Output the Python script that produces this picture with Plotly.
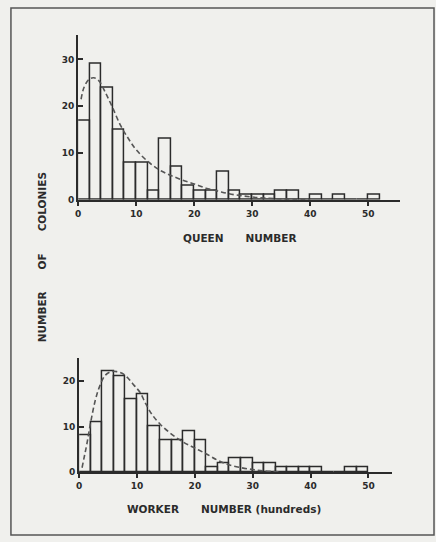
import plotly.graph_objects as go

W, H = 436, 542

# ---- data ----
bin_width = 2
queen_bins = [0, 2, 4, 6, 8, 10, 12, 14, 16, 18, 20, 22, 24, 26, 28, 30, 32, 34, 36, 38, 40, 42, 44, 46, 48, 50]
queen_counts = [17, 29, 24, 15, 8, 8, 2, 13, 7, 3, 2, 2, 6, 2, 1, 1, 1, 2, 2, 0, 1, 0, 1, 0, 0, 1]

worker_bins = [0, 2, 4, 6, 8, 10, 12, 14, 16, 18, 20, 22, 24, 26, 28, 30, 32, 34, 36, 38, 40, 42, 44, 46, 48]
worker_counts = [8, 11, 22, 21, 16, 17, 10, 7, 7, 9, 7, 1, 2, 3, 3, 2, 2, 1, 1, 1, 1, 0, 0, 1, 1]

queen_fit_x = [0.5, 1.0, 1.9, 2.7, 3.6, 4.7, 5.9, 7.3, 8.7, 10.0, 12.0, 14.0, 16.0, 18.0, 20.0, 22.0, 24.0, 26.0, 28.0, 30.0, 32.0, 35.0, 40.0]
queen_fit_y = [21.5, 24.0, 25.8, 26.1, 25.4, 22.9, 19.8, 15.9, 13.0, 10.7, 8.2, 6.4, 5.2, 4.2, 3.4, 2.5, 1.9, 1.3, 0.9, 0.6, 0.4, 0.2, 0.05]

worker_fit_x = [0.5, 0.9, 1.3, 2.0, 2.8, 3.6, 4.5, 5.5, 6.5, 7.5, 8.5, 9.5, 10.5, 11.5, 12.5, 14.0, 16.0, 18.0, 20.0, 22.0, 24.0, 26.0, 28.0, 30.0, 32.0, 35.0]
worker_fit_y = [1.0, 3.5, 6.0, 11.0, 15.8, 19.0, 21.2, 22.0, 22.0, 21.6, 20.5, 19.0, 17.5, 15.0, 12.8, 10.5, 8.3, 6.6, 5.3, 4.0, 2.6, 1.6, 1.0, 0.6, 0.3, 0.1]

x_ticks = [0, 10, 20, 30, 40, 50]
queen_y_ticks = [0, 10, 20, 30]
worker_y_ticks = [0, 10, 20]

queen_title = "QUEEN\u00a0\u00a0\u00a0\u00a0\u00a0\u00a0NUMBER"
worker_title = "WORKER\u00a0\u00a0\u00a0\u00a0\u00a0\u00a0NUMBER (hundreds)"
y_title = "NUMBER\u00a0\u00a0\u00a0\u00a0\u00a0\u00a0OF\u00a0\u00a0\u00a0\u00a0\u00a0\u00a0COLONIES"

# ---- style ----
BG = "#f0f0ed"
INK = "#2b2b2b"
FONT = "DejaVu Sans"


def px_x(p):
    return p / W


def px_y(p):
    return 1 - p / H


fig = go.Figure()

fig.add_trace(go.Bar(
    x=[b + bin_width / 2 for b in queen_bins], y=queen_counts, width=bin_width,
    marker=dict(color="rgba(0,0,0,0)", line=dict(color=INK, width=1.5)),
    xaxis="x", yaxis="y", showlegend=False, hoverinfo="x+y"))
fig.add_trace(go.Scatter(
    x=queen_fit_x, y=queen_fit_y, mode="lines",
    line=dict(color="#555555", width=1.6, dash="5px,3px", shape="spline"),
    xaxis="x", yaxis="y", showlegend=False))

fig.add_trace(go.Bar(
    x=[b + bin_width / 2 for b in worker_bins], y=worker_counts, width=bin_width,
    marker=dict(color="rgba(0,0,0,0)", line=dict(color=INK, width=1.5)),
    xaxis="x2", yaxis="y2", showlegend=False, hoverinfo="x+y"))
fig.add_trace(go.Scatter(
    x=worker_fit_x, y=worker_fit_y, mode="lines",
    line=dict(color="#555555", width=1.6, dash="5px,3px", shape="spline"),
    xaxis="x2", yaxis="y2", showlegend=False))

tickfont = dict(family=FONT, size=9, color=INK, weight="bold")

common_x = dict(showline=True, linewidth=2, linecolor=INK, ticks="outside", ticklen=4,
                tickwidth=1.5, tickcolor=INK, showgrid=False, zeroline=False,
                tickvals=x_ticks, tickfont=tickfont, fixedrange=True)
common_y = dict(showline=True, linewidth=2, linecolor=INK, ticks="inside", ticklen=5,
                tickwidth=1.5, tickcolor=INK, showgrid=False, zeroline=False,
                tickfont=tickfont, fixedrange=True)

title_font = dict(family=FONT, size=10.5, color=INK, weight="bold")

fig.update_layout(
    width=W, height=H,
    margin=dict(l=0, r=0, t=0, b=0),
    paper_bgcolor=BG, plot_bgcolor=BG,
    bargap=0,
    xaxis=dict(domain=[px_x(75.7), px_x(400)], range=[0, 55.5], anchor="y", **common_x),
    yaxis=dict(domain=[px_y(201.7), px_y(35)], range=[0, 35.3], anchor="x",
               tickvals=queen_y_ticks, **common_y),
    xaxis2=dict(domain=[px_x(76.7), px_x(391.7)], range=[0, 54.07], anchor="y2", **common_x),
    yaxis2=dict(domain=[px_y(476.7), px_y(361.7)], range=[0, 24.9], anchor="x2",
                tickvals=worker_y_ticks, **common_y),
    shapes=[dict(type="rect", xref="paper", yref="paper",
                 x0=px_x(8), x1=px_x(434), y0=px_y(540), y1=px_y(8),
                 line=dict(color="#555555", width=1.5))],
    annotations=[
        dict(text=queen_title, xref="paper", yref="paper", x=px_x(239), y=px_y(240),
             showarrow=False, font=title_font, xanchor="center", yanchor="middle"),
        dict(text=worker_title, xref="paper", yref="paper", x=px_x(223), y=px_y(514),
             showarrow=False, font=title_font, xanchor="center", yanchor="middle"),
        dict(text=y_title, xref="paper", yref="paper", x=px_x(39), y=px_y(260),
             showarrow=False, textangle=-90, font=title_font,
             xanchor="center", yanchor="middle"),
    ],
)

fig.write_html("out.html", config={"displayModeBar": False},
               post_script="document.body.style.margin='0';document.body.style.overflow='hidden';")
